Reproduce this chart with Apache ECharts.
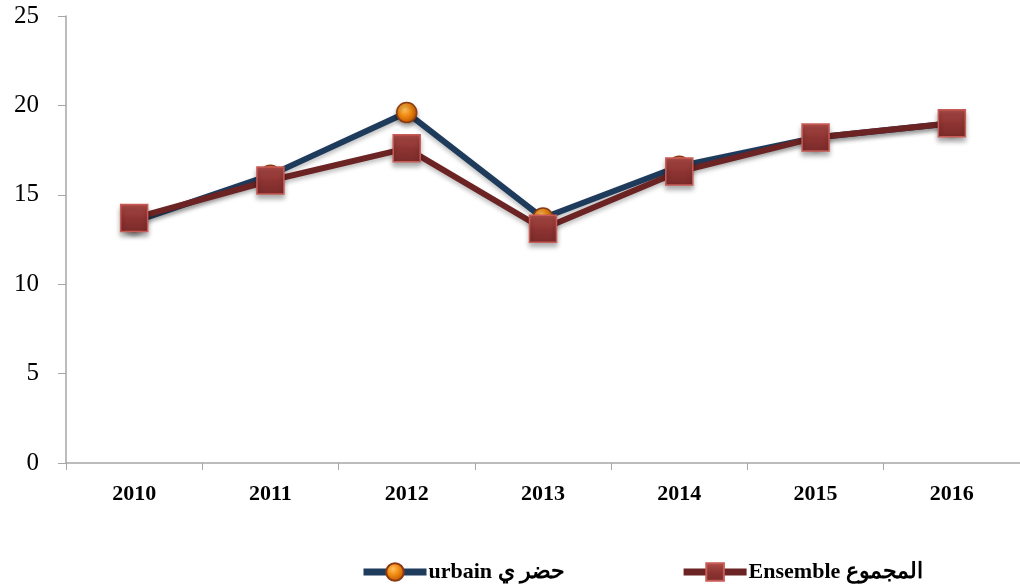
<!DOCTYPE html>
<html>
<head>
<meta charset="utf-8">
<script src="https://cdn.jsdelivr.net/npm/echarts@6/dist/echarts.min.js"></script>
<style>html,body{margin:0;padding:0;background:#fff}#c{width:1020px;height:584px}</style>
</head>
<body>
<div id="c"></div>
<script>
const years = ['2010','2011','2012','2013','2014','2015','2016'];
const urbainName = 'urbain حضر ي';
const ensembleName = 'Ensemble المجموع';
const urbain = [13.5, 16.1, 19.6, 13.7, 16.6, 18.2, 19.0];
const ensemble = [13.7, 15.8, 17.6, 13.1, 16.3, 18.2, 19.0];
const yTicks = [0, 5, 10, 15, 20, 25];

const chart = echarts.init(document.getElementById('c'));
const serif = '"Liberation Serif", "Times New Roman", serif';
chart.setOption({
  animation: false,
  backgroundColor: '#fff',
  grid: {left: 66, right: -5, top: 16, bottom: 121, containLabel: false},
  xAxis: {
    type: 'category',
    data: years,
    boundaryGap: true,
    axisLine: {lineStyle: {color: '#a6a6a6', width: 1.5}},
    axisTick: {show: true, length: 7, alignWithLabel: false, lineStyle: {color: '#a6a6a6'}},
    axisLabel: {margin: 20, fontFamily: serif, fontSize: 22, fontWeight: 'bold', color: '#000'},
    splitLine: {show: false}
  },
  yAxis: {
    type: 'value',
    min: yTicks[0], max: yTicks[yTicks.length - 1], interval: 5,
    axisLine: {show: true, lineStyle: {color: '#a6a6a6', width: 1.5}},
    axisTick: {show: true, length: 8, lineStyle: {color: '#a6a6a6'}},
    axisLabel: {margin: 27, fontFamily: serif, fontSize: 25, color: '#000'},
    splitLine: {show: false}
  },
  legend: {
    top: 556,
    left: 355,
    itemGap: 115,
    itemWidth: 63,
    itemHeight: 22,
    lineStyle: {width: 7},
    textStyle: {fontFamily: serif, fontSize: 22, fontWeight: 'bold', color: '#000', padding: [0,0,0,-3]},
    data: [urbainName, ensembleName]
  },
  series: [
    {
      name: urbainName,
      type: 'line',
      data: urbain,
      symbol: 'circle',
      symbolSize: 20,
      lineStyle: {color: '#1f3b5c', width: 6, shadowColor: 'rgba(0,0,0,0.25)', shadowBlur: 4, shadowOffsetY: 3},
      itemStyle: {
        color: new echarts.graphic.RadialGradient(0.4, 0.35, 0.7, [
          {offset: 0, color: '#ffc060'},
          {offset: 0.45, color: '#f08a10'},
          {offset: 1, color: '#b85000'}
        ]),
        borderColor: '#8a3a14', borderWidth: 1.5,
        shadowColor: 'rgba(0,0,0,0.35)', shadowBlur: 4, shadowOffsetY: 3
      },
      z: 2
    },
    {
      name: ensembleName,
      type: 'line',
      data: ensemble,
      symbol: 'rect',
      symbolSize: 27,
      lineStyle: {color: '#6b2323', width: 6, shadowColor: 'rgba(0,0,0,0.25)', shadowBlur: 4, shadowOffsetY: 3},
      itemStyle: {
        color: new echarts.graphic.LinearGradient(0, 0, 0, 1, [
          {offset: 0, color: '#b14e4a'},
          {offset: 0.5, color: '#8e3432'},
          {offset: 1, color: '#7a2b2a'}
        ]),
        borderColor: '#c85b56', borderWidth: 1.5,
        shadowColor: 'rgba(0,0,0,0.35)', shadowBlur: 5, shadowOffsetY: 4
      },
      z: 3
    }
  ]
});
</script>
</body>
</html>
